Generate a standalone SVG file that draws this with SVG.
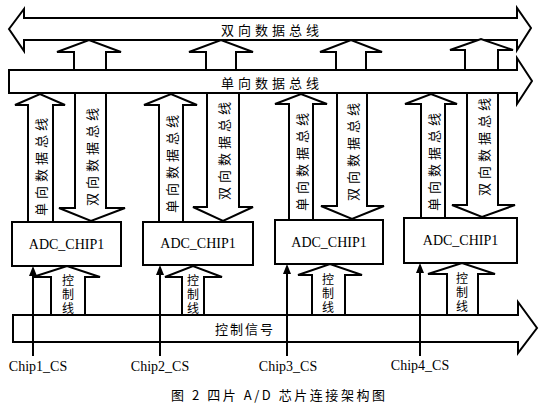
<svg xmlns="http://www.w3.org/2000/svg" width="545" height="408" viewBox="0 0 545 408">
<defs>
<style>
.sh{fill:#fff;stroke:#000;stroke-width:2;stroke-linejoin:miter}
.cn{font-family:"Noto Sans CJK SC","Noto Sans",sans-serif;font-size:13px;fill:#000}
.cv{font-family:"Noto Sans CJK SC","Noto Sans",sans-serif;font-size:12px;fill:#000;writing-mode:vertical-rl;letter-spacing:2px}
.lt{font-family:"Liberation Serif","Noto Sans CJK SC",serif;font-size:14px;fill:#000}
.ln{stroke:#000;stroke-width:2;fill:none}
.hd{fill:#000}
</style>
</defs>
<rect width="545" height="408" fill="#fff"/>

<g id="bus-bidir">
<polygon class="sh" points="9,29 24,9 24,18 517,18 517,8 531,28 517,50 517,40 24,40 24,51"/>
<text class="cn" x="272" y="29" text-anchor="middle" dominant-baseline="central" letter-spacing="4">双向数据总线</text>
</g>

<g id="bus-unidir">
<polygon class="sh" points="9,70 517,70 517,58 532,81 517,104 517,93 9,93"/>
<text class="cn" x="272" y="82" text-anchor="middle" dominant-baseline="central" letter-spacing="4">单向数据总线</text>
</g>

<g id="bus-ctrl">
<polygon class="sh" points="13,315 518,315 518,302 537,328 518,353 518,342 13,342"/>
<text class="cn" x="245" y="328" text-anchor="middle" dominant-baseline="central" letter-spacing="2">控制信号</text>
</g>

<g id="chip1">
<rect class="sh" x="12" y="222" width="109" height="44"/>
<text class="lt" x="66.5" y="244" text-anchor="middle" dominant-baseline="central">ADC_CHIP1</text>
</g>
<g id="chip2">
<rect class="sh" x="143" y="222" width="110" height="43"/>
<text class="lt" x="198" y="243.5" text-anchor="middle" dominant-baseline="central">ADC_CHIP1</text>
</g>
<g id="chip3">
<rect class="sh" x="275" y="220" width="108" height="44"/>
<text class="lt" x="329" y="242" text-anchor="middle" dominant-baseline="central">ADC_CHIP1</text>
</g>
<g id="chip4">
<rect class="sh" x="404" y="218" width="113" height="45"/>
<text class="lt" x="460.5" y="240.5" text-anchor="middle" dominant-baseline="central">ADC_CHIP1</text>
</g>

<g id="connectors">
<!-- uplinks from unidirectional bus to bidirectional bus -->
<polygon class="sh" points="74,70 74,52 57,52 89,40 121,52 106,52 106,70"/>
<polygon class="sh" points="206,70 206,52 189,52 221,40 253,52 236,52 236,70"/>
<polygon class="sh" points="336,70 336,52 320,52 351,40 382,52 366,52 366,70"/>
<polygon class="sh" points="465,70 465,50 450,50 481,39 513,50 498,50 498,70"/>

<!-- chip to unidirectional bus (up) -->
<polygon class="sh" points="28,222 28,105 15,105 40,94 65,105 53,105 53,222"/>
<polygon class="sh" points="159,222 159,105 144,105 171,94 197,105 183,105 183,222"/>
<polygon class="sh" points="289,220 289,104 275,104 301,94 327,104 313,104 313,220"/>
<polygon class="sh" points="421,218 421,104 405,104 431,94 457,104 445,104 445,218"/>
<text class="cn" transform="translate(40,165) rotate(-90)" text-anchor="middle" dominant-baseline="central" letter-spacing="4">单向数据总线</text>
<text class="cn" transform="translate(171,162) rotate(-90)" text-anchor="middle" dominant-baseline="central" letter-spacing="4">单向数据总线</text>
<text class="cn" transform="translate(301,160) rotate(-90)" text-anchor="middle" dominant-baseline="central" letter-spacing="4">单向数据总线</text>
<text class="cn" transform="translate(433,160) rotate(-90)" text-anchor="middle" dominant-baseline="central" letter-spacing="4">单向数据总线</text>

<!-- bidirectional bus down to chips -->
<polygon class="sh" points="75,93 75,208 59,208 91,221 125,208 106,208 106,93"/>
<polygon class="sh" points="207,93 207,207 193,207 223,221 253,207 239,207 239,93"/>
<polygon class="sh" points="337,93 337,206 321,206 352,219 384,206 367,206 367,93"/>
<polygon class="sh" points="467,93 467,205 452,205 482,217 515,205 498,205 498,93"/>
<text class="cn" transform="translate(91,155) rotate(-90)" text-anchor="middle" dominant-baseline="central" letter-spacing="4">双向数据总线</text>
<text class="cn" transform="translate(223,149) rotate(-90)" text-anchor="middle" dominant-baseline="central" letter-spacing="4">双向数据总线</text>
<text class="cn" transform="translate(352,150) rotate(-90)" text-anchor="middle" dominant-baseline="central" letter-spacing="4">双向数据总线</text>
<text class="cn" transform="translate(483,145) rotate(-90)" text-anchor="middle" dominant-baseline="central" letter-spacing="4">双向数据总线</text>

<!-- control lines up to chips -->
<polygon class="sh" points="51,315 51,277 33,277 67,266 100,277 85,277 85,315"/>
<polygon class="sh" points="182,315 182,277 165,277 193,266 222,277 204,277 204,315"/>
<polygon class="sh" points="312,315 312,275 298,275 330,264 362,275 345,275 345,315"/>
<polygon class="sh" points="447,315 447,274 428,274 462,263 495,274 478,274 478,315"/>
<text class="cv" x="68" y="274">控制线</text>
<text class="cv" x="193" y="274">控制线</text>
<text class="cv" x="328" y="273">控制线</text>
<text class="cv" x="462" y="272">控制线</text>

<!-- chip select lines -->
<line class="ln" x1="33" y1="356" x2="33" y2="274"/>
<polygon class="hd" points="33,266 29,276 37,276"/>
<line class="ln" x1="160" y1="356" x2="160" y2="273"/>
<polygon class="hd" points="160,265 156,275 164,275"/>
<line class="ln" x1="287" y1="356" x2="287" y2="272"/>
<polygon class="hd" points="287,264 283,274 291,274"/>
<line class="ln" x1="420" y1="356" x2="420" y2="271"/>
<polygon class="hd" points="420,263 416,273 424,273"/>
</g>

<g id="labels">
<text class="lt" x="38" y="366" text-anchor="middle" dominant-baseline="central">Chip1_CS</text>
<text class="lt" x="160" y="366" text-anchor="middle" dominant-baseline="central">Chip2_CS</text>
<text class="lt" x="288" y="366" text-anchor="middle" dominant-baseline="central">Chip3_CS</text>
<text class="lt" x="420" y="365" text-anchor="middle" dominant-baseline="central">Chip4_CS</text>
<text class="cn" x="171" y="394" dominant-baseline="central" textLength="214" lengthAdjust="spacing">图 2 四片 A/D 芯片连接架构图</text>
</g>
</svg>
